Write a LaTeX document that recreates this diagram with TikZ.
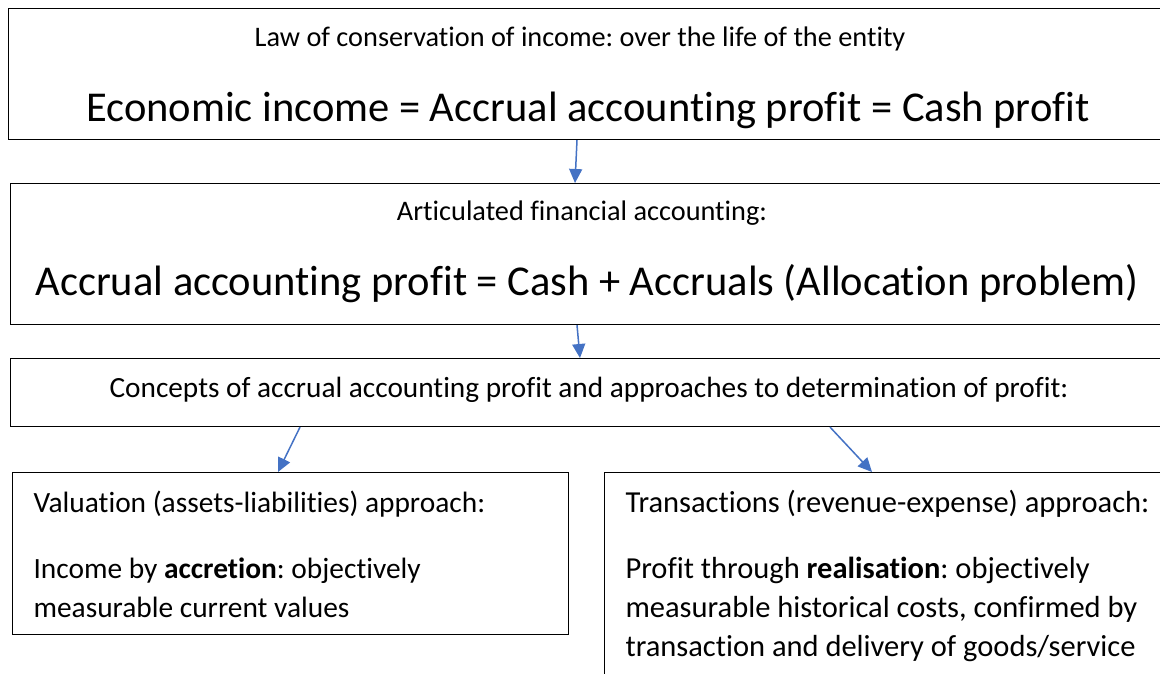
\documentclass[tikz,border=0pt]{standalone}
\usepackage{fontspec}
\setmainfont{Carlito}[Ligatures=NoCommon]
\usetikzlibrary{arrows.meta}
\definecolor{arrowblue}{RGB}{68,114,196}
\frenchspacing

\begin{document}
\begin{tikzpicture}[x=1pt, y=-1pt, line width=1.1pt,
        box/.style={draw, rectangle, anchor=north west, inner sep=0pt},
        small/.style={font=\fontsize{28.3}{34}\selectfont, inner sep=0pt},
        mid/.style={font=\fontsize{29.3}{35}\selectfont, inner sep=0pt},
        body/.style={font=\fontsize{30.5}{37}\selectfont, inner sep=0pt, anchor=base west},
        big/.style={font=\fontsize{42.5}{50}\selectfont, inner sep=0pt},
        flow/.style={draw=arrowblue, line width=1.5pt, -{Triangle[length=14pt, width=13pt]}}]
    \clip (0,0) rectangle (1160,674);
    % boxes
    \node[box, minimum width=1170pt, minimum height=131pt] (law) at (8,8) {};
    \node[box, minimum width=1170pt, minimum height=141pt] (art) at (10,183) {};
    \node[box, minimum width=1170pt, minimum height=68pt] (conc) at (10,358) {};
    \node[box, minimum width=556pt, minimum height=162pt] (val) at (12,472) {};
    \node[box, minimum width=600pt, minimum height=250pt] (trans) at (604,472) {};
    % texts
    \node[small, anchor=base] (lawtop) at (580,47) {Law of conservation of income: over the life of the entity};
    \node[big, anchor=base] (laweq) at (588,122) {Economic income = Accrual accounting profit = Cash profit};
    \node[small, anchor=base] (arttop) at (582,221) {Articulated financial accounting:};
    \node[big, anchor=base] (arteq) at (587,295) {Accrual accounting profit = Cash + Accruals (Allocation problem)};
    \node[mid, anchor=base] (conctxt) at (589,397) {Concepts of accrual accounting profit and approaches to determination of profit:};
    \node[body, font=\fontsize{29.4}{35}\selectfont] (valhead) at (33,512) {Valuation (assets-liabilities) approach:};
    \node[body, font=\fontsize{29.4}{35}\selectfont] (valone) at (33,578) {Income by \textbf{accretion}: objectively};
    \node[body, font=\fontsize{29.4}{35}\selectfont] (valtwo) at (33,617) {measurable current values};
    \node[body] (transhead) at (625,512) {Transactions (revenue-expense) approach:};
    \node[body] (transone) at (625,578) {Profit through \textbf{realisation}: objectively};
    \node[body] (transtwo) at (625,617) {measurable historical costs, confirmed by};
    \node[body] (transthree) at (625,656) {transaction and delivery of goods/service};
    % arrows
    \draw[flow] ([xshift=569pt]law.south west) -- ([xshift=565pt]art.north west);
    \draw[flow] ([xshift=567pt]art.south west) -- ([xshift=570pt]conc.north west);
    \draw[flow] ([xshift=290pt]conc.south west) -- ([xshift=266pt]val.north west);
    \draw[flow] ([xshift=820pt]conc.south west) -- ([xshift=268pt]trans.north west);
\end{tikzpicture}
\end{document}
